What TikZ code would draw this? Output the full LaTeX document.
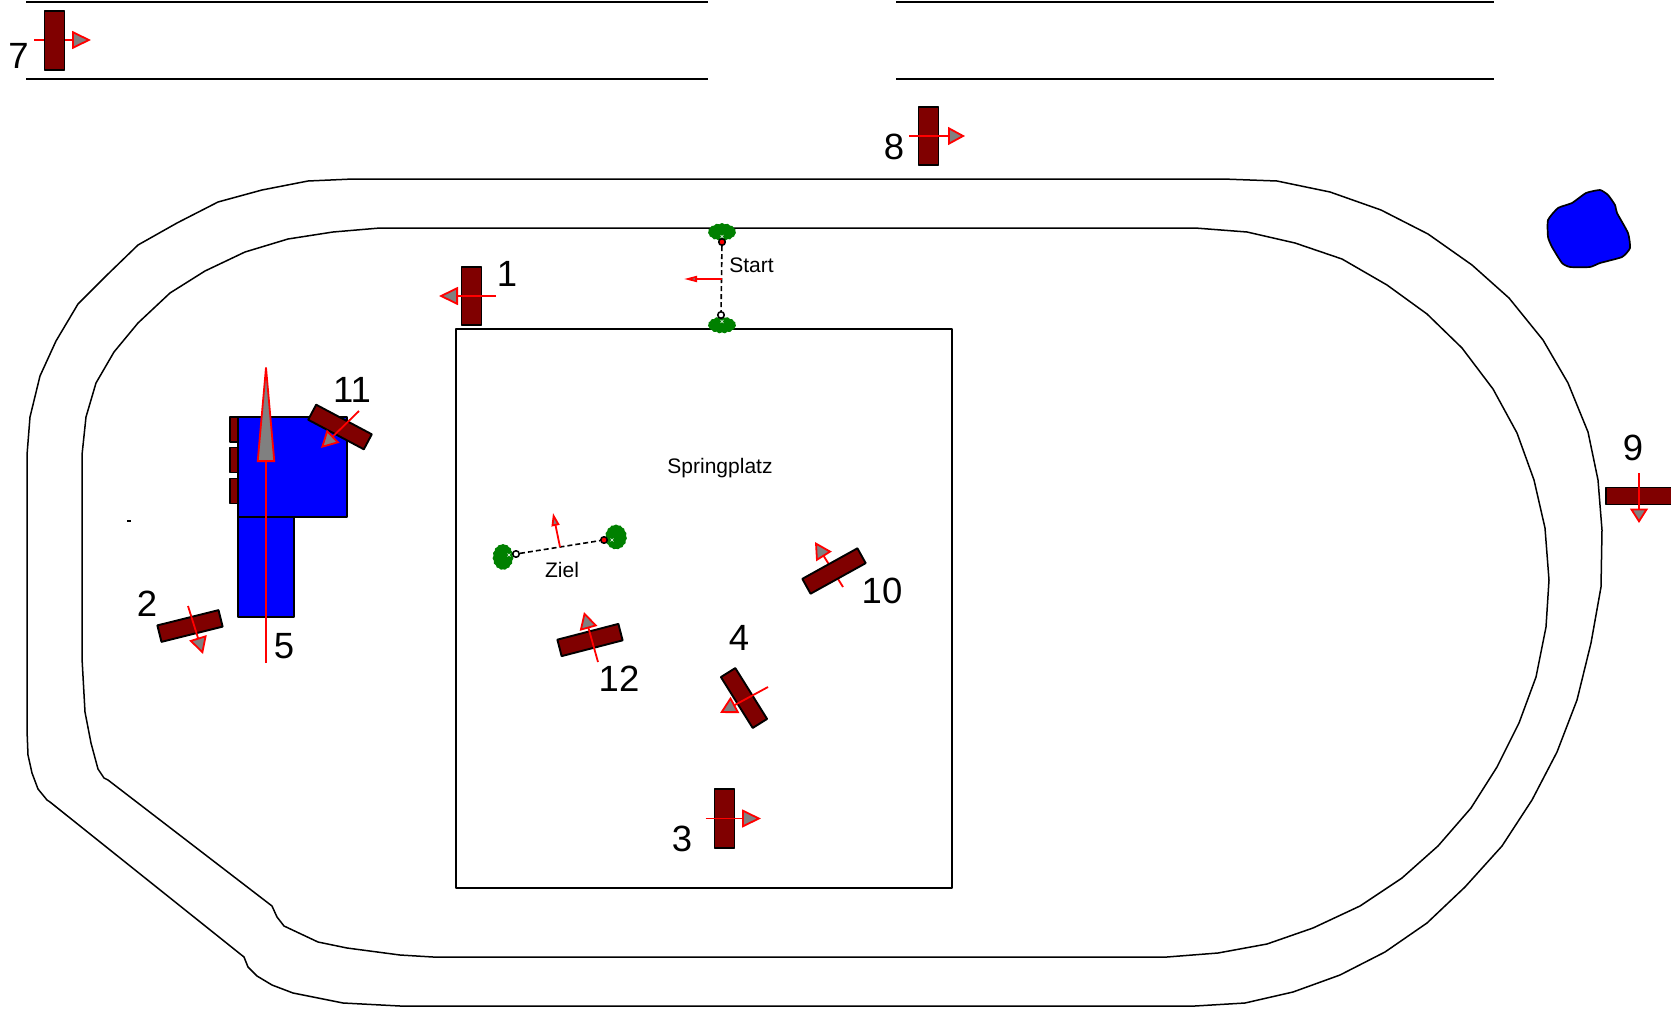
\documentclass[tikz,border=0pt]{standalone}
\usepackage{fontspec}
\setmainfont{Liberation Sans}
\usepackage{xcolor}
\usepackage{tikz}
\usetikzlibrary{positioning,arrows.meta,shapes.symbols}
\definecolor{dunkelrot}{RGB}{128,0,0}
\definecolor{busch}{RGB}{0,128,0}

\begin{document}
\begin{tikzpicture}[x=1pt,y=-1pt,on grid,line join=round]
        \tikzstyle{strecke}=[draw=black,line width=1.5pt]
        \tikzstyle{zaun}=[draw=black,line width=1.9pt]
        \tikzstyle{hindernis}=[draw=black,line width=1.9pt,fill=dunkelrot,inner sep=0pt,minimum width=58.5pt,minimum height=20pt]
        \tikzstyle{schraeg}=[hindernis,minimum width=63pt,minimum height=17pt]
        \tikzstyle{pfeil}[17pt]=[draw=red,line width=1.8pt,-{Triangle[length=#1,width=18pt,fill=gray]}]
        \tikzstyle{gebaeude}=[draw=black,line width=1.7pt,fill=blue,inner sep=0pt]
        \tikzstyle{nummer}=[font=\fontsize{36.5}{36.5}\selectfont,inner sep=0pt]
        \tikzstyle{schrift}=[font=\fontsize{21}{21}\selectfont,inner sep=0pt]
        \tikzstyle{gebuesch}=[cloud,cloud puffs=15,cloud puff arc=100,fill=busch,inner sep=0pt]
        \tikzstyle{kreuz}=[draw=white,line width=0.6pt]
        \tikzstyle{flagge}=[circle,draw=black,line width=1.6pt,inner sep=0pt,minimum size=6.5pt]
        \tikzstyle{leine}=[draw=black,line width=1.6pt,dash pattern=on 5pt off 3pt]
        \path[use as bounding box,clip] (0,0) rectangle (1671,1009);

        \draw[zaun] (26,2) -- (708,2);
        \draw[zaun] (26,79) -- (708,79);
        \draw[zaun] (896,2) -- (1494,2);
        \draw[zaun] (896,79) -- (1494,79);

        \draw[strecke] (353,179) -- (1223,179) -- (1277,181) -- (1330,192) -- (1381,210) -- (1428,234) -- (1472,265) -- (1509,298) -- (1543,340) -- (1568,383) -- (1588,432) -- (1598,480) -- (1602,530) -- (1601,587) -- (1591,643) -- (1577,700) -- (1557,752) -- (1532,800) -- (1502,846) -- (1465,887) -- (1427,923) -- (1385,952) -- (1340,975) -- (1293,992) -- (1245,1003) -- (1195,1006) -- (400,1006) -- (343,1003) -- (293,993) -- (272,985) -- (257,976) -- (248,967) -- (244,957) -- (50,802) -- (47,800) -- (38,789) -- (32,773) -- (28,755) -- (27,730) -- (27,455) -- (30,417) -- (40,376) -- (56,341) -- (78,304) -- (107,275) -- (138,245) -- (177,223) -- (218,202) -- (262,190) -- (308,181) -- cycle;
        \draw[strecke] (380,228) -- (1195,228) -- (1247,232) -- (1295,243) -- (1342,259) -- (1387,285) -- (1427,314) -- (1462,348) -- (1493,389) -- (1517,433) -- (1534,480) -- (1545,528) -- (1549,580) -- (1546,627) -- (1536,677) -- (1519,723) -- (1497,767) -- (1471,808) -- (1438,846) -- (1402,878) -- (1360,906) -- (1313,928) -- (1267,944) -- (1218,953) -- (1167,957) -- (433,957) -- (400,955) -- (347,948) -- (318,942) -- (284,926) -- (277,917) -- (272,906) -- (108,780) -- (104,778) -- (98,769) -- (91,743) -- (85,712) -- (82,658) -- (82,455) -- (86,417) -- (96,383) -- (114,352) -- (138,323) -- (170,293) -- (205,271) -- (245,252) -- (288,239) -- (333,232) -- cycle;
        \draw[line width=1.2pt] (127,521) -- (131,521);

        \node[zaun,rectangle,inner sep=0pt,minimum width=496.5pt,minimum height=559pt] (springplatz) at (704,608.5) {};
        \node[schrift] (springtext) at (720,468) {Springplatz};

        \draw[gebaeude] plot[smooth cycle,tension=0.3] coordinates {(1548,220) (1558,208) (1572,203) (1586,193) (1600,190) (1608,195) (1615,205) (1617,213) (1628,233) (1630,248) (1622,257) (1600,263) (1590,267) (1570,267) (1562,263) (1552,247) (1548,237)};

        \node[gebaeude,minimum width=56pt,minimum height=100pt] (stall) at (266,567) {};
        \node[gebaeude,minimum width=109pt,minimum height=100pt] (halle) at (292.5,467) {};
        \node[hindernis,minimum width=8pt,minimum height=25pt] (tor1) at (234,429.5) {};
        \node[hindernis,minimum width=8pt,minimum height=25pt] (tor2) at (234,460) {};
        \node[hindernis,minimum width=8pt,minimum height=25pt] (tor3) at (234,491) {};

        \coordinate (p7a) at (34,40);
        \coordinate (p7b) at (91,40);
        \draw[pfeil=19pt] (p7a) -- (p7b);
        \node[hindernis,rotate=90] (h7) at (54.5,40.5) {};
        \node[nummer] (n7) [below left=15pt and 36pt of h7] {7};

        \node[hindernis,rotate=90] (h1) at (471.5,296) {};
        \node[nummer] (n1) [above right=22pt and 35.5pt of h1] {1};
        \coordinate (p1a) at (496,296);
        \coordinate (p1b) at (439,296);
        \draw[pfeil=19pt] (p1a) -- (p1b);

        \node[hindernis,rotate=90] (h8) at (928.5,136) {};
        \node[nummer] (n8) [below left=11pt and 34.5pt of h8] {8};
        \coordinate (p8a) at (909,136);
        \coordinate (p8b) at (965,136);
        \draw[pfeil] (p8a) -- (p8b);

        \node[hindernis,rotate=90] (h3) at (724.5,818.5) {};
        \node[nummer] (n3) [below left=20pt and 42.5pt of h3] {3};
        \coordinate (p3a) at (705.5,818.5);
        \coordinate (p3b) at (761,818.5);
        \draw[pfeil=19pt] (p3a) -- (p3b);

        \node[hindernis,minimum width=70pt,minimum height=17pt] (h9) at (1641,496) {};
        \node[nummer] (n9) [above left=48pt and 8pt of h9] {9};
        \coordinate (p9a) at (1639,473);
        \coordinate (p9b) at (1639,523);
        \draw[pfeil=14.5pt] (p9a) -- (p9b);

        \node[schraeg,rotate=14] (h2) at (190,626) {};
        \node[nummer] (n2) [above left=22pt and 43pt of h2] {2};
        \coordinate (p2a) at (188,606);
        \coordinate (p2b) at (203,654);
        \draw[pfeil] (p2a) -- (p2b);

        \node[schraeg,rotate=-28] (h11) at (340,427) {};
        \node[nummer] (n11) [above right=37pt and 12pt of h11] {11};
        \coordinate (p11a) at (359,411);
        \coordinate (p11b) at (321,448);
        \draw[pfeil] (p11a) -- (p11b);

        \node[schraeg,rotate=14.5] (h12) at (590,640) {};
        \node[nummer] (n12) [below right=39pt and 29pt of h12] {12};
        \coordinate (p12a) at (598,662);
        \coordinate (p12b) at (584,612);
        \draw[pfeil] (p12a) -- (p12b);

        \node[schraeg,rotate=-58,minimum width=60pt] (h4) at (744,698) {};
        \node[nummer] (n4) [above left=60pt and 5pt of h4] {4};
        \coordinate (p4a) at (768,687);
        \coordinate (p4b) at (720,713);
        \draw[pfeil] (p4a) -- (p4b);

        \coordinate (p10a) at (843,587);
        \coordinate (p10b) at (815,542);
        \draw[pfeil] (p10a) -- (p10b);
        \node[schraeg,rotate=29] (h10) at (834,571) {};
        \node[nummer] (n10) [below right=20pt and 48pt of h10] {10};

        \coordinate (p5a) at (266,663);
        \coordinate (p5b) at (266,357);
        \draw[pfeil=105pt] (p5a) -- (p5b);
        \node[nummer] (n5) [below right=79pt and 18pt of stall] {5};

        \node[gebuesch,aspect=1.6,minimum width=28pt,minimum height=18pt] (busch1) at (722,232) {};
        \node[gebuesch,aspect=1.7,minimum width=28pt,minimum height=17pt] (busch2) at (722,325) {};
        \draw[kreuz] (720.5,235) -- (723.5,238) (723.5,235) -- (720.5,238);
        \draw[kreuz] (720.5,320) -- (723.5,323) (723.5,320) -- (720.5,323);
        \node[flagge,fill=red] (start1) at (722,242) {};
        \node[flagge,fill=white] (start2) at (721,315) {};
        \draw[leine] (start1) -- (start2);
        \coordinate (s1) at (722,279);
        \coordinate (s2) at (684,279);
        \draw[pfeil,-{Triangle[length=13pt,width=6pt,fill=gray]}] (s1) -- (s2);
        \node[schrift] (starttext) at (751.5,265) {Start};

        \node[gebuesch,aspect=0.85,minimum width=21pt,minimum height=26pt] (busch3) at (503,557) {};
        \node[gebuesch,aspect=0.85,minimum width=22pt,minimum height=25pt] (busch4) at (616,537) {};
        \draw[kreuz] (507.5,553.5) -- (510.5,556.5) (510.5,553.5) -- (507.5,556.5);
        \draw[kreuz] (610.5,538.5) -- (613.5,541.5) (613.5,538.5) -- (610.5,541.5);
        \node[flagge,fill=white] (ziel1) at (516,554) {};
        \node[flagge,fill=red] (ziel2) at (604,540) {};
        \draw[leine] (ziel1) -- (ziel2);
        \coordinate (z1) at (560,547);
        \coordinate (z2) at (553,513);
        \draw[pfeil,-{Triangle[length=13pt,width=8pt,fill=gray]}] (z1) -- (z2);
        \node[schrift] (zieltext) at (562,570) {Ziel};
    \end{tikzpicture}
\end{document}
